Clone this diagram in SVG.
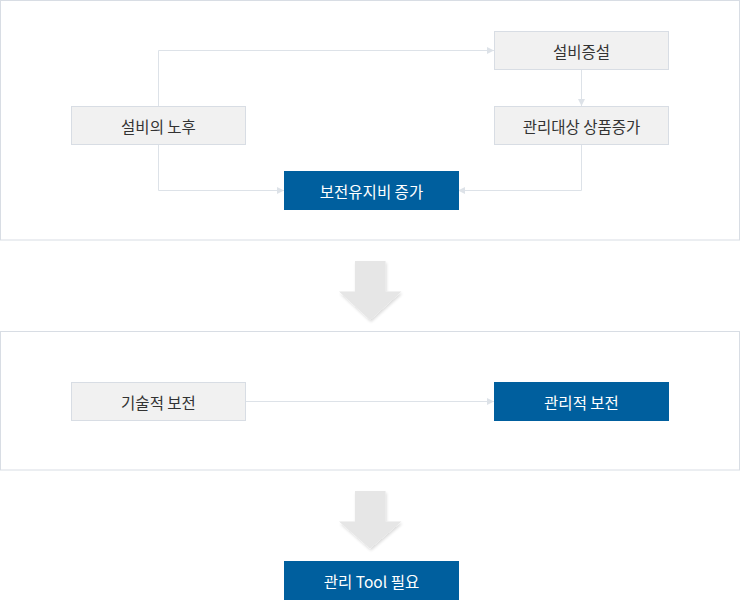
<svg xmlns="http://www.w3.org/2000/svg" width="740" height="600" viewBox="0 0 740 600">
<defs>
<style>
.panel{fill:#fff;stroke:#d8dde4;stroke-width:1}
.gray rect{fill:#f1f1f1;stroke:#d8dde4;stroke-width:1}
.blue rect{fill:#005f9e}
.gray text{fill:#333}
.blue text{fill:#fff}
text{font-family:"Noto Sans CJK KR","Noto Sans",sans-serif;font-size:15.5px;text-anchor:middle;dominant-baseline:central}
.conn{fill:none;stroke:#dde2e8;stroke-width:1}
.big{fill:#e6e6e6}
</style>
<marker id="ah" viewBox="0 0 10 10" refX="10" refY="5" markerWidth="7" markerHeight="7" markerUnits="userSpaceOnUse" orient="auto">
<path d="M0,0L10,5L0,10z" fill="#dde2e8"/>
</marker>
<filter id="sh" x="-20%" y="-20%" width="140%" height="140%">
<feGaussianBlur in="SourceAlpha" stdDeviation="1.5"/>
<feOffset dx="1" dy="1.5"/>
<feComponentTransfer><feFuncA type="linear" slope="0.15"/></feComponentTransfer>
<feMerge><feMergeNode/><feMergeNode in="SourceGraphic"/></feMerge>
</filter>
</defs>
<rect class="panel" x="0.5" y="0.5" width="739" height="239.5"/>
<rect class="panel" x="0.5" y="331.5" width="739" height="138.5"/>
<g id="bigarrows">
<path class="big" filter="url(#sh)" d="M355,261H385.5V291.5H401.5L370,320L339,291.5H355Z"/>
<path class="big" filter="url(#sh)" d="M355,491H385.5V521.5H401.5L370,548.5L339,521.5H355Z"/>
</g>
<g id="connectors">
<path class="conn" marker-end="url(#ah)" d="M158.5,106V50.5H494"/>
<path class="conn" marker-end="url(#ah)" d="M158.5,144V190.5H284"/>
<path class="conn" marker-end="url(#ah)" d="M581.5,69V106"/>
<path class="conn" marker-end="url(#ah)" d="M581.5,144V190.5H458"/>
<path class="conn" marker-end="url(#ah)" d="M245,401.5H494"/>
</g>
<g id="n1" class="gray"><rect x="71.5" y="106.5" width="174" height="38"/><text x="158.5" y="125.5">설비의 노후</text></g>
<g id="n2" class="gray"><rect x="494.5" y="31.5" width="174" height="38"/><text x="581.5" y="50.5">설비증설</text></g>
<g id="n3" class="gray"><rect x="494.5" y="106.5" width="174" height="38"/><text x="581.5" y="125.5">관리대상 상품증가</text></g>
<g id="n4" class="blue"><rect x="284" y="171" width="175" height="39"/><text x="371.5" y="190.5">보전유지비 증가</text></g>
<g id="n5" class="gray"><rect x="71.5" y="382.5" width="174" height="38"/><text x="158.5" y="401.5">기술적 보전</text></g>
<g id="n6" class="blue"><rect x="494" y="382" width="175" height="39"/><text x="581.5" y="401.5">관리적 보전</text></g>
<g id="n7" class="blue"><rect x="284" y="561" width="175" height="39"/><text x="371.5" y="580.5">관리 Tool 필요</text></g>
</svg>
